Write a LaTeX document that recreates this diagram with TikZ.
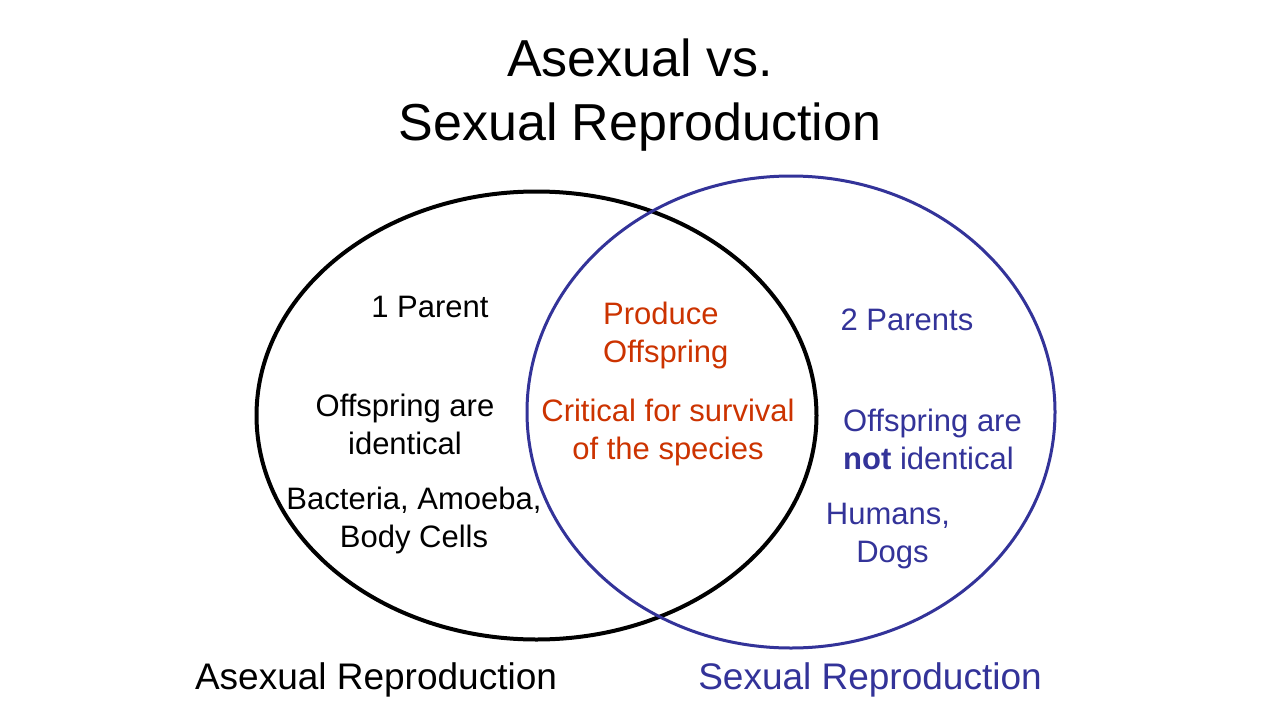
\documentclass[tikz,border=0pt]{standalone}
\usepackage{fontspec}
\setmainfont{Liberation Sans}
\definecolor{vblue}{HTML}{333399}
\definecolor{vred}{HTML}{CC3300}
\begin{document}
\begin{tikzpicture}[x=1pt,y=-1pt,
  bodytext/.style={inner sep=0pt,font=\fontsize{31}{38}\selectfont},
  titletext/.style={inner sep=0pt,align=center,font=\fontsize{52}{64}\selectfont},
  caplabel/.style={inner sep=0pt,font=\fontsize{37}{44}\selectfont}]
\useasboundingbox (0,0) rectangle (1280,720);
\fill[white] (0,0) rectangle (1280,720);
\node[titletext] (t) at (640,95) {Asexual vs.\\Sexual Reproduction};
\draw[line width=4pt,black] (536.5,415.5) ellipse [x radius=280pt,y radius=224pt];
\draw[line width=3pt,vblue] (791,412) ellipse [x radius=264pt,y radius=236pt];
\node[bodytext] (p1) at (430,307) {1 Parent};
\node[bodytext,align=center] (i1) at (405,424) {Offspring are\\identical};
\node[bodytext,align=center] (b1) at (414,520) {Bacteria, Amoeba,\\Body Cells};
\node[bodytext,align=left,text=vred,anchor=west] (po) at (603,335) {Produce\\Offspring};
\node[bodytext,align=center,text=vred] (cr) at (668,432) {Critical for survival\\of the species};
\node[bodytext,text=vblue] (p2) at (907,320) {2 Parents};
\node[bodytext,align=left,text=vblue,anchor=west] (i2) at (843,439) {Offspring are\\\textbf{not} identical};
\node[bodytext,align=center,text=vblue] (h2) at (888,536) {Humans,\\\hspace*{9pt}Dogs};
\node[caplabel] (la) at (376,680) {Asexual Reproduction};
\node[caplabel,text=vblue] (ls) at (870,680) {Sexual Reproduction};
\end{tikzpicture}
\end{document}
